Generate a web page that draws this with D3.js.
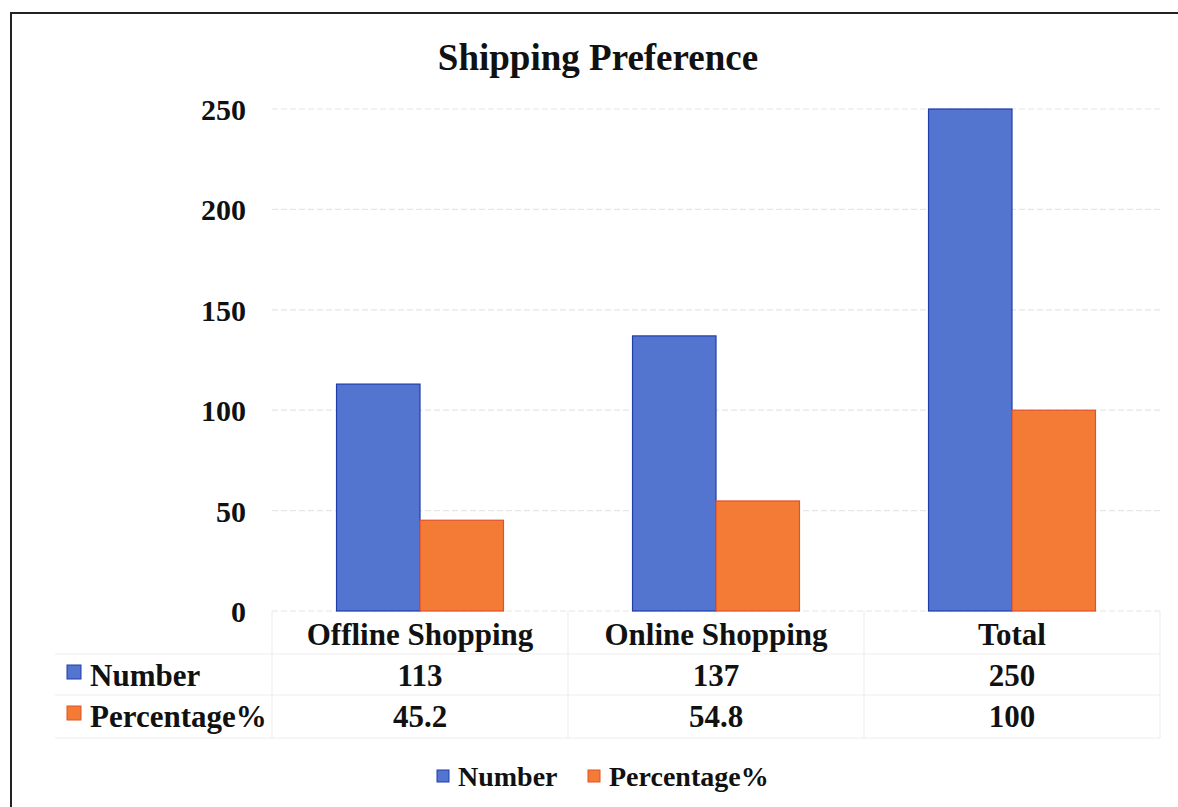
<!DOCTYPE html>
<html>
<head>
<meta charset="utf-8">
<script src="https://cdn.jsdelivr.net/npm/d3@7"></script>
<style>
  body { margin: 0; background: #fff; }
  text { font-family: "Liberation Serif", "Times New Roman", serif; font-weight: bold; fill: #111; }
</style>
</head>
<body>
<script>
var categories = ["Offline Shopping", "Online Shopping", "Total"];
var series_names = ["Number", "Percentage%"];
var number_values = [113, 137, 250];
var percentage_values = [45.2, 54.8, 100];
var y_ticks = [0, 50, 100, 150, 200, 250];

var svg_width = 1178;
var svg_height = 807;
var colors = { "Number": "#5475cf", "Percentage%": "#f37b35" };
var strokes = { "Number": "#1e3cab", "Percentage%": "#e2502a" };

var svg = d3.select("body").append("svg")
    .attr("width", svg_width)
    .attr("height", svg_height);

// outer frame (right and bottom edges fall off the page)
svg.append("rect")
    .attr("x", 11).attr("y", 13)
    .attr("width", 1200).attr("height", 820)
    .attr("fill", "none")
    .attr("stroke", "#222")
    .attr("stroke-width", 2);

svg.append("text")
    .attr("x", 598).attr("y", 70)
    .attr("text-anchor", "middle")
    .style("font-size", "37px")
    .text("Shipping Preference");

var x = d3.scaleBand()
    .domain(categories)
    .range([272, 1160])
    .paddingInner(0.436)
    .paddingOuter(0.218);
var x_inner = d3.scaleBand()
    .domain(series_names)
    .range([0, x.bandwidth()]);
var y = d3.scaleLinear()
    .domain([0, 250])
    .range([611, 109]);

// gridlines
svg.selectAll("line.grid")
    .data(y_ticks)
    .enter()
    .append("line")
    .attr("class", "grid")
    .attr("x1", 272).attr("x2", 1160)
    .attr("y1", function(d) { return y(d); })
    .attr("y2", function(d) { return y(d); })
    .attr("stroke", "#e6e6e6")
    .attr("stroke-width", 1.2)
    .attr("stroke-dasharray", "6,3");

// y axis labels
var yaxis = d3.axisLeft(y).tickValues(y_ticks).tickSize(0).tickPadding(0);
var yg = svg.append("g")
    .attr("transform", "translate(246,0)")
    .call(yaxis);
yg.select(".domain").remove();
yg.selectAll("text")
    .style("font-size", "30px")
    .style("font-family", "'Liberation Serif', serif")
    .attr("dy", "0.35em");

// bars
var rows = categories.map(function(c, i)
{
    return { category: c, values: [
        { name: "Number", value: number_values[i] },
        { name: "Percentage%", value: percentage_values[i] }
    ]};
});
var groups = svg.selectAll("g.group")
    .data(rows)
    .enter()
    .append("g")
    .attr("class", "group")
    .attr("transform", function(d) { return "translate(" + x(d.category) + ",0)"; });
groups.selectAll("rect")
    .data(function(d) { return d.values; })
    .enter()
    .append("rect")
    .attr("x", function(d) { return x_inner(d.name); })
    .attr("y", function(d) { return y(d.value); })
    .attr("width", x_inner.bandwidth())
    .attr("height", function(d) { return y(0) - y(d.value); })
    .attr("fill", function(d) { return colors[d.name]; })
    .attr("stroke", function(d) { return strokes[d.name]; })
    .attr("stroke-width", 1.2);

// data table
var table_lines = [654, 695, 738];
svg.selectAll("line.trow")
    .data(table_lines)
    .enter()
    .append("line")
    .attr("x1", 55).attr("x2", 1160)
    .attr("y1", function(d) { return d; })
    .attr("y2", function(d) { return d; })
    .attr("stroke", "#eeeeee")
    .attr("stroke-width", 1.2);
var col_edges = [272, 568, 864, 1160];
svg.selectAll("line.tcol")
    .data(col_edges)
    .enter()
    .append("line")
    .attr("x1", function(d) { return d; })
    .attr("x2", function(d) { return d; })
    .attr("y1", 611).attr("y2", 738)
    .attr("stroke", "#eeeeee")
    .attr("stroke-width", 1.2);

svg.selectAll("text.cat")
    .data(categories)
    .enter()
    .append("text")
    .attr("x", function(d) { return x(d) + x.bandwidth() / 2; })
    .attr("y", 645)
    .attr("text-anchor", "middle")
    .style("font-size", "31px")
    .text(function(d) { return d; });

var table_rows = [
    { name: "Number", values: number_values, y: 686 },
    { name: "Percentage%", values: percentage_values, y: 727 }
];
table_rows.forEach(function(r)
{
    svg.append("rect")
        .attr("x", 67).attr("y", r.y - 21)
        .attr("width", 14).attr("height", 14)
        .attr("fill", colors[r.name])
        .attr("stroke", strokes[r.name])
        .attr("stroke-width", 1);
    svg.append("text")
        .attr("x", 90).attr("y", r.y)
        .style("font-size", "31px")
        .text(r.name);
    svg.selectAll(null)
        .data(r.values)
        .enter()
        .append("text")
        .attr("x", function(d, i) { return x(categories[i]) + x.bandwidth() / 2; })
        .attr("y", r.y)
        .attr("text-anchor", "middle")
        .style("font-size", "31px")
        .text(function(d) { return d; });
});

// legend
var legend_items = [
    { name: "Number", x: 437 },
    { name: "Percentage%", x: 588 }
];
legend_items.forEach(function(l)
{
    svg.append("rect")
        .attr("x", l.x).attr("y", 770)
        .attr("width", 12).attr("height", 12)
        .attr("fill", colors[l.name])
        .attr("stroke", strokes[l.name])
        .attr("stroke-width", 1);
    svg.append("text")
        .attr("x", l.x + 21).attr("y", 786)
        .style("font-size", "28px")
        .text(l.name);
});
</script>
</body>
</html>
